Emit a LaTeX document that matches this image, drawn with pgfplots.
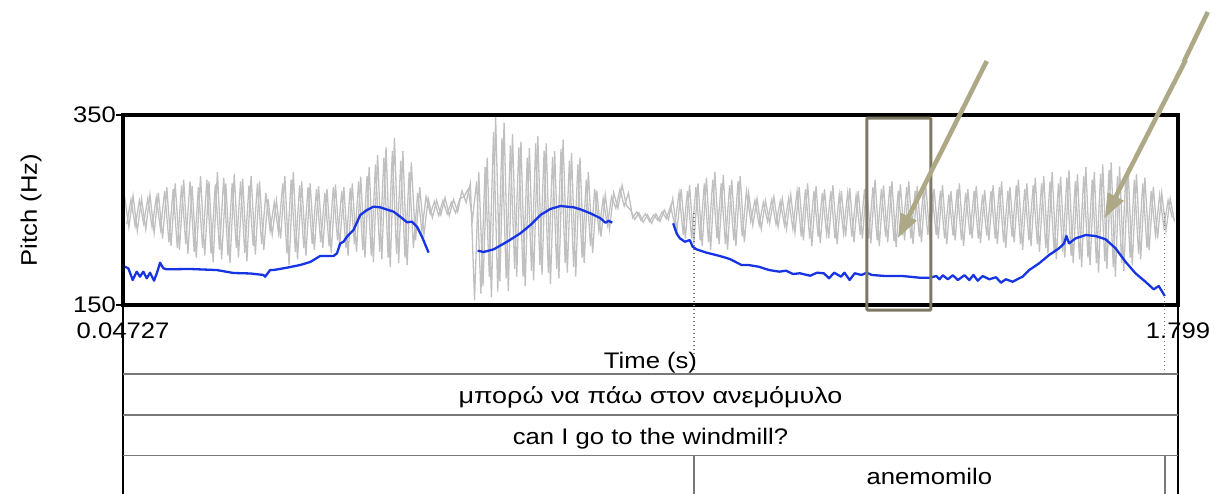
\documentclass[border=0pt]{standalone}
\usepackage{fontspec}
\setmainfont{Liberation Sans}[FakeStretch=1.14]
\usepackage{pgfplots}
\pgfplotsset{compat=1.18}
\usetikzlibrary{arrows.meta}

\definecolor{wave}{RGB}{192,192,192}
\definecolor{pitch}{RGB}{22,52,228}
\definecolor{boxcol}{RGB}{125,121,98}
\definecolor{arrowcol}{RGB}{173,169,134}
\definecolor{tier}{RGB}{120,120,120}

\newcommand{\labfont}{\fontsize{22.5}{27}\selectfont}

\begin{document}
\labfont
\begin{tikzpicture}
\useasboundingbox (0,0) rectangle (1215pt,493pt);

% sound waveform, drawn behind the pitch track
\begin{axis}[at={(123pt,188pt)}, anchor=south west, scale only axis,
  width=1055pt, height=190pt, xmin=0.04727, xmax=1.799, ymin=-1, ymax=1,
  hide axis]
% outer peaks
\addplot[wave, line width=1.3pt] table[row sep=\\] {
t a\\
0.050 0.14\\ 0.057 -0.18\\ 0.064 0.15\\ 0.071 -0.22\\ 0.078 0.12\\ 0.085 -0.20\\ 0.092 0.16\\ 0.099 -0.24\\ 0.106 0.18\\ 0.113 -0.30\\
0.120 0.24\\ 0.127 -0.38\\ 0.134 0.28\\ 0.141 -0.42\\ 0.148 0.32\\ 0.155 -0.46\\ 0.162 0.25\\ 0.169 -0.50\\ 0.176 0.36\\ 0.183 -0.48\\
0.190 0.30\\ 0.197 -0.55\\ 0.204 0.40\\ 0.211 -0.52\\ 0.218 0.28\\ 0.225 -0.56\\ 0.232 0.38\\ 0.239 -0.50\\ 0.246 0.33\\ 0.253 -0.54\\
0.260 0.36\\ 0.267 -0.47\\ 0.274 0.30\\ 0.281 -0.42\\ 0.288 0.12\\ 0.295 -0.26\\ 0.302 0.10\\ 0.309 -0.30\\ 0.316 0.36\\ 0.323 -0.58\\
0.330 0.40\\ 0.337 -0.52\\ 0.344 0.30\\ 0.351 -0.48\\ 0.358 0.28\\ 0.365 -0.42\\ 0.372 0.25\\ 0.379 -0.40\\ 0.386 0.22\\ 0.393 -0.45\\
0.400 0.27\\ 0.407 -0.38\\ 0.414 0.24\\ 0.421 -0.48\\ 0.428 0.28\\ 0.435 -0.44\\ 0.442 0.35\\ 0.449 -0.50\\ 0.456 0.45\\ 0.463 -0.55\\
0.470 0.58\\ 0.477 -0.52\\ 0.484 0.66\\ 0.491 -0.60\\ 0.498 0.76\\ 0.505 -0.56\\ 0.512 0.62\\ 0.519 -0.58\\ 0.526 0.50\\ 0.533 -0.32\\
0.540 0.24\\ 0.547 -0.26\\ 0.554 0.12\\ 0.561 -0.08\\ 0.568 0.10\\ 0.575 -0.05\\ 0.582 0.13\\ 0.589 -0.06\\ 0.596 0.11\\ 0.603 -0.02\\
0.610 0.20\\ 0.617 0.08\\ 0.624 0.28\\ 0.631 -0.95\\ 0.638 0.40\\ 0.645 -0.80\\ 0.652 0.55\\ 0.659 -0.92\\ 0.666 0.98\\ 0.673 -0.75\\
0.680 0.92\\ 0.687 -0.85\\ 0.694 0.80\\ 0.701 -0.70\\ 0.708 0.72\\ 0.715 -0.80\\ 0.722 0.65\\ 0.729 -0.74\\ 0.736 0.78\\ 0.743 -0.68\\
0.750 0.70\\ 0.757 -0.78\\ 0.764 0.62\\ 0.771 -0.72\\ 0.778 0.74\\ 0.785 -0.66\\ 0.792 0.60\\ 0.799 -0.70\\ 0.806 0.55\\ 0.813 -0.56\\
0.820 0.40\\ 0.827 -0.45\\ 0.834 0.20\\ 0.841 -0.28\\ 0.848 0.16\\ 0.855 -0.20\\ 0.862 0.18\\ 0.869 0.02\\ 0.876 0.26\\ 0.883 0.05\\
0.890 0.00\\ 0.897 -0.10\\ 0.904 -0.03\\ 0.911 -0.13\\ 0.918 -0.05\\ 0.925 -0.14\\ 0.932 -0.04\\ 0.939 -0.12\\ 0.946 0.00\\ 0.953 -0.10\\
0.960 0.12\\ 0.967 -0.22\\ 0.974 0.22\\ 0.981 -0.30\\ 0.988 0.26\\ 0.995 -0.36\\ 1.002 0.28\\ 1.009 -0.38\\ 1.016 0.34\\ 1.023 -0.42\\
1.030 0.40\\ 1.037 -0.36\\ 1.044 0.37\\ 1.051 -0.42\\ 1.058 0.32\\ 1.065 -0.38\\ 1.072 0.36\\ 1.079 -0.34\\ 1.086 0.18\\ 1.093 -0.16\\
1.100 0.12\\ 1.107 -0.20\\ 1.114 0.10\\ 1.121 -0.14\\ 1.128 0.14\\ 1.135 -0.18\\ 1.142 0.12\\ 1.149 -0.20\\ 1.156 0.16\\ 1.163 -0.24\\
1.170 0.24\\ 1.177 -0.32\\ 1.184 0.28\\ 1.191 -0.38\\ 1.198 0.25\\ 1.205 -0.35\\ 1.212 0.22\\ 1.219 -0.30\\ 1.226 0.26\\ 1.233 -0.36\\
1.240 0.20\\ 1.247 -0.28\\ 1.254 0.23\\ 1.261 -0.34\\ 1.268 0.20\\ 1.275 -0.30\\ 1.282 0.28\\ 1.289 -0.35\\ 1.296 0.32\\ 1.303 -0.38\\
1.310 0.26\\ 1.317 -0.34\\ 1.324 0.30\\ 1.331 -0.39\\ 1.338 0.27\\ 1.345 -0.32\\ 1.352 0.30\\ 1.359 -0.36\\ 1.366 0.25\\ 1.373 -0.34\\
1.380 0.28\\ 1.387 -0.30\\ 1.394 0.22\\ 1.401 -0.30\\ 1.408 0.26\\ 1.415 -0.36\\ 1.422 0.20\\ 1.429 -0.32\\ 1.436 0.28\\ 1.443 -0.38\\
1.450 0.22\\ 1.457 -0.30\\ 1.464 0.25\\ 1.471 -0.35\\ 1.478 0.21\\ 1.485 -0.32\\ 1.492 0.26\\ 1.499 -0.36\\ 1.506 0.30\\ 1.513 -0.40\\
1.520 0.24\\ 1.527 -0.34\\ 1.534 0.32\\ 1.541 -0.42\\ 1.548 0.28\\ 1.555 -0.38\\ 1.562 0.34\\ 1.569 -0.44\\ 1.576 0.36\\ 1.583 -0.46\\
1.590 0.40\\ 1.597 -0.52\\ 1.604 0.35\\ 1.611 -0.50\\ 1.618 0.42\\ 1.625 -0.56\\ 1.632 0.38\\ 1.639 -0.60\\ 1.646 0.45\\ 1.653 -0.58\\
1.660 0.40\\ 1.667 -0.66\\ 1.674 0.48\\ 1.681 -0.62\\ 1.688 0.50\\ 1.695 -0.70\\ 1.702 0.46\\ 1.709 -0.64\\ 1.716 0.44\\ 1.723 -0.58\\
1.730 0.38\\ 1.737 -0.52\\ 1.744 0.34\\ 1.751 -0.42\\ 1.758 0.24\\ 1.765 -0.30\\ 1.772 0.18\\ 1.779 -0.22\\ 1.786 0.12\\ 1.793 -0.12\\
};
% inner peaks, half a step later
\addplot[wave, line width=1.3pt] table[row sep=\\] {
t a\\
0.0535 -0.15\\ 0.0605 0.11\\ 0.0675 -0.17\\ 0.0745 0.10\\ 0.0815 -0.14\\ 0.0885 0.12\\ 0.0955 -0.18\\ 0.1025 0.13\\ 0.1095 -0.20\\ 0.1165 0.20\\
0.1235 -0.34\\ 0.1305 0.22\\ 0.1375 -0.40\\ 0.1445 0.26\\ 0.1515 -0.36\\ 0.1585 0.30\\ 0.1655 -0.44\\ 0.1725 0.24\\ 0.1795 -0.40\\ 0.1865 0.32\\
0.1935 -0.46\\ 0.2005 0.27\\ 0.2075 -0.42\\ 0.2145 0.34\\ 0.2215 -0.48\\ 0.2285 0.28\\ 0.2355 -0.40\\ 0.2425 0.30\\ 0.2495 -0.45\\ 0.2565 0.26\\
0.2635 -0.38\\ 0.2705 0.28\\ 0.2775 -0.36\\ 0.2845 0.18\\ 0.2915 -0.22\\ 0.2985 0.08\\ 0.3055 -0.24\\ 0.3125 0.28\\ 0.3195 -0.46\\ 0.3265 0.32\\
0.3335 -0.44\\ 0.3405 0.26\\ 0.3475 -0.40\\ 0.3545 0.24\\ 0.3615 -0.36\\ 0.3685 0.22\\ 0.3755 -0.34\\ 0.3825 0.18\\ 0.3895 -0.38\\ 0.3965 0.24\\
0.4035 -0.32\\ 0.4105 0.20\\ 0.4175 -0.40\\ 0.4245 0.23\\ 0.4315 -0.36\\ 0.4385 0.30\\ 0.4455 -0.42\\ 0.4525 0.36\\ 0.4595 -0.48\\ 0.4665 0.48\\
0.4735 -0.44\\ 0.4805 0.55\\ 0.4875 -0.50\\ 0.4945 0.62\\ 0.5015 -0.46\\ 0.5085 0.52\\ 0.5155 -0.50\\ 0.5225 0.40\\ 0.5295 -0.40\\ 0.5365 0.18\\
0.5435 -0.22\\ 0.5505 0.14\\ 0.5575 -0.04\\ 0.5645 0.09\\ 0.5715 -0.06\\ 0.5785 0.10\\ 0.5855 -0.04\\ 0.5925 0.08\\ 0.5995 -0.03\\ 0.6065 0.12\\
0.6135 0.14\\ 0.6205 0.22\\ 0.6275 -0.10\\ 0.6345 0.30\\ 0.6415 -0.88\\ 0.6485 0.45\\ 0.6555 -0.70\\ 0.6625 0.82\\ 0.6695 -0.86\\ 0.6765 0.76\\
0.6835 -0.72\\ 0.6905 0.68\\ 0.6975 -0.62\\ 0.7045 0.66\\ 0.7115 -0.70\\ 0.7185 0.55\\ 0.7255 -0.64\\ 0.7325 0.70\\ 0.7395 -0.58\\ 0.7465 0.62\\
0.7535 -0.66\\ 0.7605 0.56\\ 0.7675 -0.62\\ 0.7745 0.64\\ 0.7815 -0.56\\ 0.7885 0.52\\ 0.7955 -0.60\\ 0.8025 0.48\\ 0.8095 -0.50\\ 0.8165 0.32\\
0.8235 -0.38\\ 0.8305 0.22\\ 0.8375 -0.22\\ 0.8445 0.12\\ 0.8515 -0.16\\ 0.8585 0.14\\ 0.8655 0.02\\ 0.8725 0.22\\ 0.8795 0.04\\ 0.8865 0.18\\
0.8935 -0.08\\ 0.9005 -0.02\\ 0.9075 -0.11\\ 0.9145 -0.04\\ 0.9215 -0.12\\ 0.9285 -0.05\\ 0.9355 -0.11\\ 0.9425 -0.02\\ 0.9495 -0.09\\ 0.9565 0.04\\
0.9635 -0.16\\ 0.9705 0.18\\ 0.9775 -0.26\\ 0.9845 0.20\\ 0.9915 -0.30\\ 0.9985 0.24\\ 1.0055 -0.32\\ 1.0125 0.28\\ 1.0195 -0.34\\ 1.0265 0.32\\
1.0335 -0.30\\ 1.0405 0.28\\ 1.0475 -0.36\\ 1.0545 0.26\\ 1.0615 -0.32\\ 1.0685 0.30\\ 1.0755 -0.28\\ 1.0825 0.20\\ 1.0895 -0.12\\ 1.0965 0.10\\
1.1035 -0.16\\ 1.1105 0.08\\ 1.1175 -0.12\\ 1.1245 0.11\\ 1.1315 -0.15\\ 1.1385 0.09\\ 1.1455 -0.16\\ 1.1525 0.12\\ 1.1595 -0.20\\ 1.1665 0.20\\
1.1735 -0.28\\ 1.1805 0.22\\ 1.1875 -0.30\\ 1.1945 0.20\\ 1.2015 -0.28\\ 1.2085 0.18\\ 1.2155 -0.25\\ 1.2225 0.20\\ 1.2295 -0.30\\ 1.2365 0.16\\
1.2435 -0.24\\ 1.2505 0.18\\ 1.2575 -0.28\\ 1.2645 0.15\\ 1.2715 -0.26\\ 1.2785 0.22\\ 1.2855 -0.30\\ 1.2925 0.24\\ 1.2995 -0.32\\ 1.3065 0.22\\
1.3135 -0.28\\ 1.3205 0.25\\ 1.3275 -0.33\\ 1.3345 0.20\\ 1.3415 -0.27\\ 1.3485 0.24\\ 1.3555 -0.30\\ 1.3625 0.20\\ 1.3695 -0.28\\ 1.3765 0.22\\
1.3835 -0.26\\ 1.3905 0.18\\ 1.3975 -0.26\\ 1.4045 0.20\\ 1.4115 -0.30\\ 1.4185 0.16\\ 1.4255 -0.27\\ 1.4325 0.22\\ 1.4395 -0.32\\ 1.4465 0.18\\
1.4535 -0.26\\ 1.4605 0.20\\ 1.4675 -0.30\\ 1.4745 0.16\\ 1.4815 -0.27\\ 1.4885 0.20\\ 1.4955 -0.30\\ 1.5025 0.24\\ 1.5095 -0.34\\ 1.5165 0.20\\
1.5235 -0.28\\ 1.5305 0.26\\ 1.5375 -0.36\\ 1.5445 0.22\\ 1.5515 -0.32\\ 1.5585 0.26\\ 1.5655 -0.36\\ 1.5725 0.28\\ 1.5795 -0.40\\ 1.5865 0.30\\
1.5935 -0.45\\ 1.6005 0.28\\ 1.6075 -0.44\\ 1.6145 0.34\\ 1.6215 -0.48\\ 1.6285 0.30\\ 1.6355 -0.52\\ 1.6425 0.36\\ 1.6495 -0.50\\ 1.6565 0.32\\
1.6635 -0.56\\ 1.6705 0.38\\ 1.6775 -0.54\\ 1.6845 0.42\\ 1.6915 -0.60\\ 1.6985 0.36\\ 1.7055 -0.56\\ 1.7125 0.38\\ 1.7195 -0.50\\ 1.7265 0.32\\
1.7335 -0.46\\ 1.7405 0.28\\ 1.7475 -0.40\\ 1.7545 0.20\\ 1.7615 -0.26\\ 1.7685 0.16\\ 1.7755 -0.18\\ 1.7825 0.10\\ 1.7895 -0.08\\
};
\end{axis}

% pitch track with frame, ticks and the text tiers below
\begin{axis}[at={(123pt,188pt)}, anchor=south west, scale only axis,
  width=1055pt, height=190pt, xmin=0.04727, xmax=1.799, ymin=150, ymax=350,
  clip=false,
  axis line style={line width=3.5pt, line cap=rect},
  tick align=outside, major tick length=7pt,
  ytick pos=left,
  ytick={150,350}, yticklabels={150,350},
  xtick={0.04727,1.799}, xticklabels={0.04727,1.799},
  xtick style={draw=none}, ytick style={line width=2.4pt, black},
  yticklabel style={font=\labfont, inner sep=0pt, anchor=east},
  xticklabel style={font=\labfont, inner sep=0pt, anchor=base, yshift=-26pt},
  xlabel={Time (s)}, ylabel={Pitch (Hz)},
  xlabel style={font=\labfont, at={(axis description cs:0.5,-0.3316)}, anchor=base, inner sep=0pt},
  ylabel style={font=\labfont, at={(axis description cs:-0.0872,0.5)}, anchor=center, inner sep=0pt},
]
\addplot[pitch, line width=2.3pt, line join=round] coordinates {
(0.0506,190.3) (0.0561,188.6) (0.0634,176.3) (0.0700,185.1) (0.0755,179.8)
(0.0810,185.1) (0.0867,178.1) (0.0922,184.0) (0.0988,175.6) (0.1043,185.1)
(0.1088,194.5) (0.1143,188.6) (0.1199,187.6) (0.1586,187.9) (0.2030,186.8)
(0.2306,183.7) (0.2584,183.2) (0.2805,181.6) (0.2833,179.8) (0.2916,186.8)
(0.2971,186.8) (0.3137,188.6) (0.3415,192.1) (0.3581,195.3) (0.3747,201.6)
(0.3969,201.6) (0.4025,204.4) (0.4080,214.9) (0.4134,216.6) (0.4191,221.9)
(0.4300,228.9) (0.4412,244.7) (0.4523,250.0) (0.4633,253.5) (0.4744,252.8)
(0.4965,248.2) (0.5076,242.9) (0.5188,237.1) (0.5271,237.7) (0.5354,232.4)
(0.5437,221.9) (0.5547,205.1)
};
\addplot[pitch, line width=2.3pt, line join=round] coordinates {
(0.6361,207.2) (0.6461,205.8) (0.6627,208.6) (0.6850,216.6) (0.7071,225.5)
(0.7237,234.2) (0.7403,244.7) (0.7569,251.1) (0.7736,254.2) (0.7957,252.8)
(0.8068,250.7) (0.8234,246.5) (0.8400,241.3) (0.8484,236.6) (0.8538,238.7)
(0.8595,236.6)
};
\addplot[pitch, line width=2.3pt, line join=round] coordinates {
(0.9608,236.0) (0.9664,225.5) (0.9719,220.2) (0.9802,216.6) (0.9885,218.4)
(0.9930,211.4) (0.9996,208.6) (1.0162,205.1) (1.0383,201.6) (1.0549,198.4)
(1.0743,192.1) (1.0858,192.1) (1.1029,190.3) (1.1200,186.8) (1.1371,185.1)
(1.1483,186.1) (1.1598,182.6) (1.1711,183.4) (1.1882,180.8) (1.1996,184.0)
(1.2109,183.4) (1.2196,178.1) (1.2280,184.0) (1.2395,179.8) (1.2451,184.0)
(1.2538,176.3) (1.2622,183.4) (1.2737,181.6) (1.2822,184.0) (1.2906,181.6)
(1.3135,180.5) (1.3419,180.5) (1.3705,178.7) (1.3874,178.7) (1.3975,180.5)
(1.4030,177.1) (1.4085,181.3) (1.4168,177.1) (1.4251,181.3) (1.4334,176.3)
(1.4443,181.3) (1.4526,176.3) (1.4593,181.6) (1.4664,175.6) (1.4747,180.5)
(1.4857,177.1) (1.4968,179.2) (1.5051,173.5) (1.5132,177.1) (1.5244,174.5)
(1.5353,178.1) (1.5410,179.8) (1.5519,186.8) (1.5685,193.9) (1.5849,202.6)
(1.6015,209.7) (1.6098,214.9) (1.6137,222.6) (1.6181,214.9) (1.6291,220.2)
(1.6457,223.7) (1.6621,222.6) (1.6787,219.2) (1.6953,209.7) (1.7117,195.6)
(1.7283,183.4) (1.7449,174.5) (1.7587,166.5) (1.7670,170.0) (1.7770,159.5)
};

% interval boundaries carried up into the plot
\draw[tier, line width=1.3pt, dash pattern=on 1.4pt off 2.6pt] (axis cs:0.9951,246.8) -- (axis cs:0.9951,77.37);
\draw[tier, line width=1.3pt, dash pattern=on 1.4pt off 2.6pt] (axis cs:1.7771,246.8) -- (axis cs:1.7771,77.37);

% outer edges of the tiers
\draw[black, line width=1.8pt] (axis cs:0.04727,150) -- (axis cs:0.04727,-52);
\draw[black, line width=1.8pt] (axis cs:1.799,150) -- (axis cs:1.799,-52);

% tier separators
\draw[tier, line width=1.7pt] (axis cs:0.04727,77.37) -- (axis cs:1.799,77.37);
\draw[tier, line width=1.7pt] (axis cs:0.04727,34.21) -- (axis cs:1.799,34.21);
\draw[tier, line width=1.7pt] (axis cs:0.04727,-8.42) -- (axis cs:1.799,-8.42);
\draw[tier, line width=1.7pt] (axis cs:0.9951,-8.42) -- (axis cs:0.9951,-52);
\draw[tier, line width=1.7pt] (axis cs:1.7771,-8.42) -- (axis cs:1.7771,-52);

% tier texts
\node[anchor=base, inner sep=0pt, font=\labfont] at (axis cs:0.9231,46.84) {\scalebox{1.05}[1]{μπορώ να πάω στον ανεμόμυλο}};
\node[anchor=base, inner sep=0pt, font=\labfont] at (axis cs:0.9231,3.68) {can I go to the windmill?};
\node[anchor=base, inner sep=0pt, font=\labfont] at (axis cs:1.3861,-38.42) {anemomilo};

% highlighted stretch and pointers
\draw[boxcol, line width=3pt, rounded corners=1pt] (axis cs:1.2823,346.8) rectangle (axis cs:1.3886,144.7);
\draw[arrowcol, line width=4.6pt, -{Triangle[length=24pt,width=17pt]}] (axis cs:1.4815,406.8) -- (axis cs:1.3338,220.5);
\draw[arrowcol, line width=4.6pt] (axis cs:1.8484,458.4) -- (axis cs:1.8085,405.8);
\draw[arrowcol, line width=4.6pt, -{Triangle[length=24pt,width=17pt]}] (axis cs:1.8118,407.9) -- (axis cs:1.6774,241.6);
\end{axis}
\end{tikzpicture}
\end{document}
